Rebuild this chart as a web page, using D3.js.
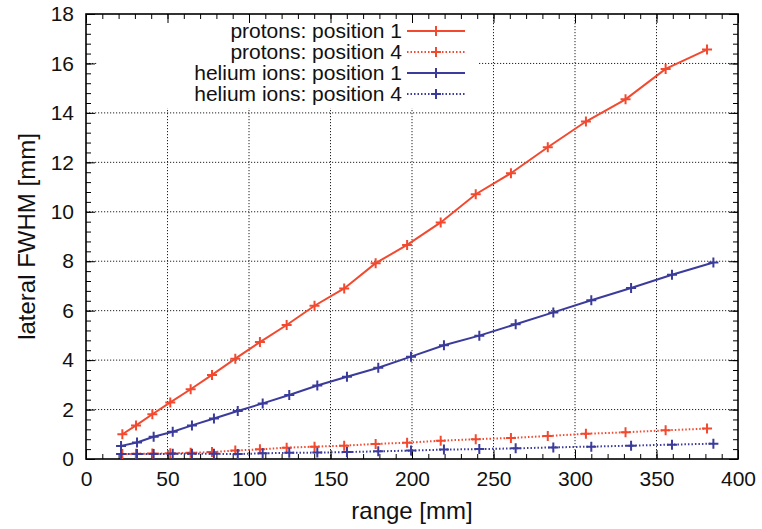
<!DOCTYPE html>
<html>
<head>
<meta charset="utf-8">
<script src="https://cdn.jsdelivr.net/npm/d3@7"></script>
<style>
  body { margin: 0; background: #fff; }
  text { font-family: "Liberation Sans", Arial, Helvetica, sans-serif; }
</style>
</head>
<body>
<svg id="chart" width="762" height="529"></svg>
<script>
    // ranges of the measured points [mm]
    var protonRange = [22.3, 30.7, 40.7, 51.7, 64.2, 77.3, 91.6, 106.7, 123.1, 140.2, 158.4,
                       177.7, 197.0, 217.6, 239.1, 260.7, 283.3, 306.7, 331.0, 355.6, 381.0];
    var heliumRange = [21.5, 31.3, 41.5, 53.2, 65.0, 78.5, 93.1, 108.4, 124.7, 141.9, 160.1,
                       179.3, 199.4, 219.6, 241.3, 263.6, 286.7, 310.0, 334.4, 359.5, 384.9];

    // lateral FWHM [mm]
    var protonPos1 = [1.0, 1.36, 1.81, 2.29, 2.82, 3.40, 4.06, 4.73, 5.42, 6.20, 6.90,
                      7.92, 8.66, 9.57, 10.71, 11.56, 12.61, 13.65, 14.55, 15.78, 16.56];
    var protonPos4 = [0.20, 0.21, 0.22, 0.23, 0.25, 0.28, 0.34, 0.39, 0.46, 0.50, 0.54,
                      0.61, 0.66, 0.74, 0.80, 0.85, 0.93, 1.02, 1.08, 1.16, 1.23];
    var heliumPos1 = [0.53, 0.67, 0.90, 1.10, 1.36, 1.64, 1.94, 2.25, 2.59, 2.97, 3.33,
                      3.69, 4.14, 4.60, 4.99, 5.45, 5.93, 6.42, 6.92, 7.45, 7.95];
    var heliumPos4 = [0.20, 0.20, 0.20, 0.21, 0.21, 0.21, 0.20, 0.23, 0.25, 0.26, 0.28,
                      0.31, 0.34, 0.38, 0.40, 0.43, 0.47, 0.50, 0.54, 0.58, 0.62];

    var seriesNames = ["protons: position 1", "protons: position 4",
                       "helium ions: position 1", "helium ions: position 4"];
    var xTicks = [0, 50, 100, 150, 200, 250, 300, 350, 400];
    var yTicks = [0, 2, 4, 6, 8, 10, 12, 14, 16, 18];

    var red = "#f2492f", blue = "#3b3b9c";
    var series = [
      {name: seriesNames[0], xs: protonRange, ys: protonPos1, color: red, dash: null},
      {name: seriesNames[1], xs: protonRange, ys: protonPos4, color: red, dash: "1.5,2"},
      {name: seriesNames[2], xs: heliumRange, ys: heliumPos1, color: blue, dash: null},
      {name: seriesNames[3], xs: heliumRange, ys: heliumPos4, color: blue, dash: "1.5,2"}
    ];

    var pLeft = 86, pRight = 738, pTop = 14, pBottom = 459;
    var xScale = d3.scaleLinear().domain([0, 400]).range([pLeft, pRight]);
    var yScale = d3.scaleLinear().domain([0, 18]).range([pBottom, pTop]);

    var svg = d3.select("#chart");

    // grid
    var grid = svg.append("g").attr("stroke", "#222").attr("stroke-width", 1)
      .attr("stroke-dasharray", "1.2,1.8");
    grid.selectAll(".gx").data(xTicks.slice(1, -1)).enter().append("line")
      .attr("x1", d => xScale(d)).attr("x2", d => xScale(d))
      .attr("y1", pTop).attr("y2", pBottom);
    grid.selectAll(".gy").data(yTicks.slice(1, -1)).enter().append("line")
      .attr("y1", d => yScale(d)).attr("y2", d => yScale(d))
      .attr("x1", pLeft).attr("x2", pRight);

    // legend background hides the grid
    svg.append("rect").attr("x", 97).attr("y", pTop + 1).attr("width", 382).attr("height", 93)
      .attr("fill", "#fff");

    // minor ticks
    var minorX = d3.range(0, 401, 10), minorY = d3.range(0, 18.01, 0.4);
    function addAxis(axis, tr) {
      var g = svg.append("g").attr("transform", tr).call(axis);
      g.select(".domain").remove();
      g.selectAll("line").attr("stroke", "#000").attr("stroke-width", 1);
      return g;
    }
    addAxis(d3.axisBottom(xScale).tickValues(minorX).tickSize(-5).tickFormat(""), "translate(0," + pBottom + ")");
    addAxis(d3.axisTop(xScale).tickValues(minorX).tickSize(-5).tickFormat(""), "translate(0," + pTop + ")");
    addAxis(d3.axisLeft(yScale).tickValues(minorY).tickSize(-5).tickFormat(""), "translate(" + pLeft + ",0)");
    addAxis(d3.axisRight(yScale).tickValues(minorY).tickSize(-5).tickFormat(""), "translate(" + pRight + ",0)");

    // major ticks + labels
    addAxis(d3.axisBottom(xScale).tickValues(xTicks).tickSize(-9).tickPadding(12).tickFormat(d3.format("d")), "translate(0," + pBottom + ")");
    addAxis(d3.axisTop(xScale).tickValues(xTicks).tickSize(-9).tickFormat(""), "translate(0," + pTop + ")");
    addAxis(d3.axisLeft(yScale).tickValues(yTicks).tickSize(-9).tickPadding(12).tickFormat(d3.format("d")), "translate(" + pLeft + ",0)");
    addAxis(d3.axisRight(yScale).tickValues(yTicks).tickSize(-9).tickFormat(""), "translate(" + pRight + ",0)");
    svg.selectAll(".tick text").attr("font-size", 21).attr("fill", "#111")
      .style("font-family", '"Liberation Sans", Arial, sans-serif');

    // frame
    svg.append("rect").attr("x", pLeft).attr("y", pTop).attr("width", pRight - pLeft).attr("height", pBottom - pTop)
      .attr("fill", "none").attr("stroke", "#000").attr("stroke-width", 1.6);

    // data
    var line = d3.line().x(d => xScale(d[0])).y(d => yScale(d[1]));
    series.forEach(function (s) {
      var pts = s.xs.map((x, i) => [x, s.ys[i]]);
      svg.append("path").datum(pts).attr("d", line)
        .attr("fill", "none").attr("stroke", s.color).attr("stroke-width", 2)
        .attr("stroke-dasharray", s.dash);
      svg.append("g").selectAll("path").data(pts).enter().append("path")
        .attr("d", d => "M" + (xScale(d[0]) - 5) + "," + yScale(d[1]) + "h10M" + xScale(d[0]) + "," + (yScale(d[1]) - 5) + "v10")
        .attr("stroke", s.color).attr("stroke-width", 2);
    });

    // legend
    var lg = svg.append("g");
    series.forEach(function (s, i) {
      var y = 31 + i * 21;
      lg.append("text").attr("x", 402).attr("y", y).attr("dy", "0.35em")
        .attr("text-anchor", "end").attr("font-size", 21).attr("fill", "#111").text(s.name);
      lg.append("line").attr("x1", 407).attr("x2", 465).attr("y1", y).attr("y2", y)
        .attr("stroke", s.color).attr("stroke-width", 2).attr("stroke-dasharray", s.dash);
      lg.append("path").attr("d", "M431," + y + "h10M436," + (y - 5) + "v10")
        .attr("stroke", s.color).attr("stroke-width", 2);
    });

    // axis titles
    svg.append("text").attr("x", (pLeft + pRight) / 2).attr("y", 519).attr("text-anchor", "middle")
      .attr("font-size", 24).attr("fill", "#111").text("range [mm]");
    svg.append("text").attr("transform", "translate(35," + (pTop + pBottom) / 2 + ") rotate(-90)")
      .attr("text-anchor", "middle").attr("font-size", 24).attr("fill", "#111").text("lateral FWHM [mm]");
</script>
</body>
</html>
